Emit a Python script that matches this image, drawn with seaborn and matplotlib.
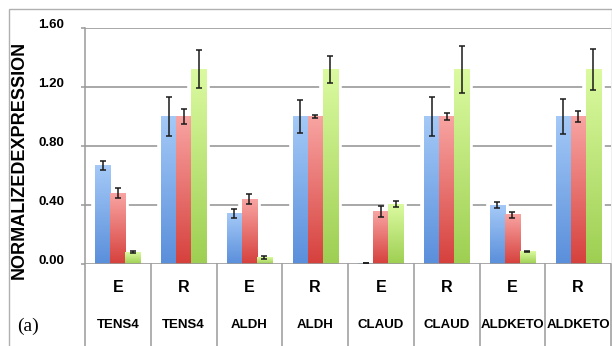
import numpy as np
import pandas as pd
import seaborn as sns
import matplotlib.pyplot as plt
import matplotlib.transforms as mtransforms
from matplotlib.patches import Rectangle
from matplotlib.colors import LinearSegmentedColormap

# data
genes = ['TENS4', 'TENS4', 'ALDH', 'ALDH', 'CLAUD', 'CLAUD', 'ALDKETO', 'ALDKETO']
conds = ['E', 'R', 'E', 'R', 'E', 'R', 'E', 'R']
blue = [0.67, 1.00, 0.34, 1.00, 0.005, 1.00, 0.40, 1.00]
red = [0.48, 1.00, 0.44, 1.00, 0.355, 1.00, 0.335, 1.00]
green = [0.08, 1.32, 0.045, 1.32, 0.405, 1.32, 0.085, 1.32]
blue_err = [0.03, 0.13, 0.03, 0.11, 0.0, 0.13, 0.02, 0.12]
red_err = [0.035, 0.05, 0.035, 0.01, 0.035, 0.025, 0.02, 0.04]
green_err = [0.005, 0.13, 0.01, 0.09, 0.02, 0.16, 0.005, 0.14]
yticks = [0.0, 0.4, 0.8, 1.2, 1.6]

series = ['s1', 's2', 's3']
cats = [g + '_' + c for g, c in zip(genes, conds)]
df = pd.DataFrame({'cat': cats * 3,
                   'series': np.repeat(series, len(cats)),
                   'value': blue + red + green})
errs = [blue_err, red_err, green_err]

# top / bottom colours of the gradients
grads = [('#a4c9f7', '#5a8fdb'), ('#f8a4a2', '#d6413d'), ('#dbfaa0', '#9ecf52')]
base = ['#7eadeb', '#ea7371', '#bde57a']

fig = plt.figure(figsize=(6.12, 3.46), dpi=100)
ax = fig.add_axes([85 / 612, 1 - 264 / 346, 526 / 612, 236 / 346])

sns.barplot(data=df, x='cat', y='value', hue='series', order=cats, hue_order=series,
            palette=base, width=0.685, gap=0, ax=ax, legend=False, errorbar=None,
            zorder=2, linewidth=0)

ax.set_xlim(-0.5, 7.5)
ax.set_ylim(0, 1.6)

bar_conts = list(ax.containers)[:3]  # errorbar() adds more containers below
grad = np.linspace(0, 1, 64).reshape(-1, 1)
for k, cont in enumerate(bar_conts):
    cmap = LinearSegmentedColormap.from_list('g%d' % k, [grads[k][1], grads[k][0]])
    xs = []
    for p in cont:
        x0, y0 = p.get_x(), p.get_y()
        w, h = p.get_width(), p.get_height()
        xs.append(x0 + w / 2)
        # white halo that breaks the grid lines round the bars
        ax.add_patch(Rectangle((x0, y0), w, h, fc='white', ec='white', lw=5.5, zorder=1.5))
        ax.imshow(grad, extent=[x0, x0 + w, y0, y0 + h], origin='lower', aspect='auto',
                  cmap=cmap, zorder=2.2, interpolation='bilinear')
    vals = [blue, red, green][k]
    ax.errorbar(xs, vals, yerr=errs[k], fmt='none', ecolor='#1a1a1a', elinewidth=1.1,
                capsize=2.3, capthick=1.1, zorder=3)

ax.set_xlim(-0.5, 7.5)
ax.set_ylim(0, 1.6)

for s in ax.spines.values():
    s.set_visible(False)
ax.set_yticks(yticks)
ax.set_yticklabels(['%.2f' % v for v in yticks], fontsize=9.5, fontweight='bold',
                   family='Liberation Sans')
ax.tick_params(axis='y', length=3, color='#999999', width=1.1, pad=12)
for lab in ax.get_yticklabels():
    lab.set_transform(lab.get_transform() + mtransforms.ScaledTranslation(0, 3 / 72, fig.dpi_scale_trans))
for v in yticks:
    ax.axhline(v, color='#9a9a9a', lw=1.2, zorder=1 if v > 0 else 2.5)

ax.set_xticks([])
ax.set_xlabel('')
ax.set_ylabel('')

trans = mtransforms.blended_transform_factory(ax.transData, ax.transAxes)
for i in range(len(cats)):
    ax.text(i, -0.1, conds[i], transform=trans, ha='center', va='center',
            fontsize=11.5, fontweight='bold', family='Liberation Sans')
    ax.text(i, -0.26, genes[i], transform=trans, ha='center', va='center',
            fontsize=9.5, fontweight='bold', family='Liberation Sans')
for b in np.arange(-0.5, 8, 1.0):
    top = 1.0 if b == -0.5 else 0.0
    ax.plot([b, b], [top, -0.4], transform=trans, color='#9a9a9a', lw=1.1,
            clip_on=False, zorder=1)

fig.text(28 / 612, 1 - 326 / 346, '(a)', ha='center', va='center', fontsize=14,
         family='Liberation Serif')
fig.text(19 / 612, 1 - 160 / 346, 'NORMALIZEDEXPRESSION', rotation=90, ha='center',
         va='center', fontsize=13, fontweight='bold', family='Liberation Sans')

fig.add_artist(Rectangle((9 / 612, -0.05), 602.5 / 612, 1.05 - 9 / 346, fill=False,
                         ec='#b0b0b0', lw=1.0, transform=fig.transFigure))

fig.savefig('out.png', dpi=100)
